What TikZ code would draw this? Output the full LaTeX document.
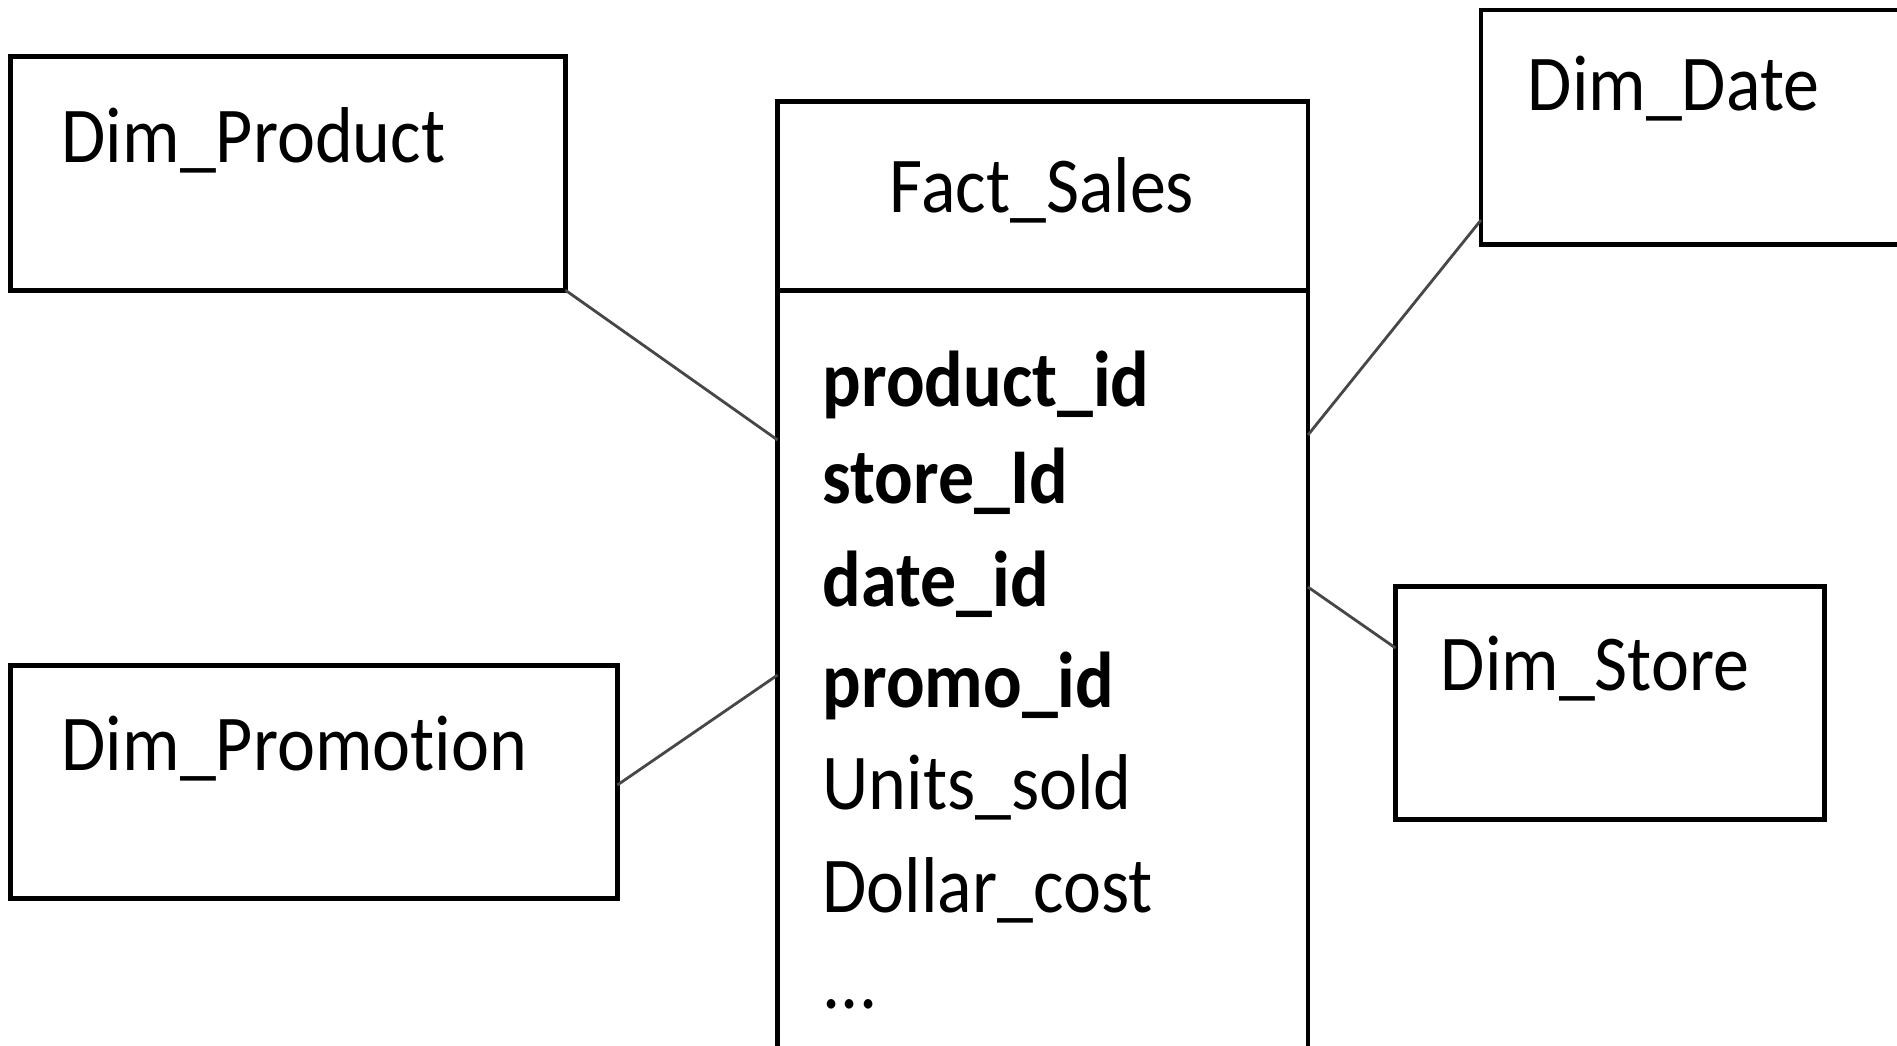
\documentclass[tikz,border=0pt]{standalone}
\usepackage{fontspec}
\setmainfont{Carlito}[FakeStretch=0.91, Ligatures=NoCommon]
\tikzset{
  boxst/.style={draw=black, line width=1.35pt, inner sep=0pt, outer sep=0pt, anchor=north west},
  lbl/.style={inner sep=0pt, anchor=base west, font=\fontsize{22.5pt}{27pt}\selectfont},
  fld/.style={lbl, font=\fontsize{22.5pt}{27pt}\selectfont\bfseries},
  conn/.style={draw=black!72, line width=0.8pt}
}
\begin{document}
\begin{tikzpicture}[x=0.01cm, y=-0.01cm]
\useasboundingbox (0,0) rectangle (1897,1045);
\clip (0,0) rectangle (1897,1045);
\fill[white] (0,0) rectangle (1897,1045);
% boxes
\node[boxst, minimum width=5.547cm, minimum height=2.333cm] (prod) at (10.3,56.7) {};
\node[boxst, minimum width=5.30cm, minimum height=10.2cm] (fact) at (777.6,101.6) {};
\node[boxst, minimum width=5cm, minimum height=2.345cm] (date) at (1481,10) {};
\node[boxst, minimum width=4.29cm, minimum height=2.323cm] (store) at (1395.5,586.7) {};
\node[boxst, minimum width=6.067cm, minimum height=2.326cm] (promo) at (10.3,665.7) {};
\draw[line width=1.35pt] (fact.west |- 0,290.3) -- (fact.east |- 0,290.3);
% connectors
\draw[conn] (prod.south east) -- (fact.west |- 0,440);
\draw[conn] (fact.east |- 0,435) -- (date.west |- 0,220);
\draw[conn] (fact.east |- 0,587) -- (store.west |- 0,648);
\draw[conn] (promo.east |- 0,785) -- (fact.west |- 0,675);
% labels
\node[lbl] (tprod) at (61,162) {Dim\_Product};
\node[lbl] (tdate) at (1527,110) {Dim\_Date};
\node[lbl] (tstore) at (1440,690.7) {Dim\_Store};
\node[lbl] (tpromo) at (61,770) {Dim\_Promotion};
\node[lbl, anchor=base] (tfact) at (1042,212) {Fact\_Sales};
% fields
\node[fld] (f1) at (822,406) {product\_id};
\node[fld] (f2) at (822,503) {store\_Id};
\node[fld] (f3) at (822,606) {date\_id};
\node[fld] (f4) at (822,707) {promo\_id};
\node[lbl] (f5) at (822,809) {Units\_sold};
\node[lbl] (f6) at (822,912) {Dollar\_cost};
\node[lbl] (f7) at (822,1008) {...};
\end{tikzpicture}
\end{document}
